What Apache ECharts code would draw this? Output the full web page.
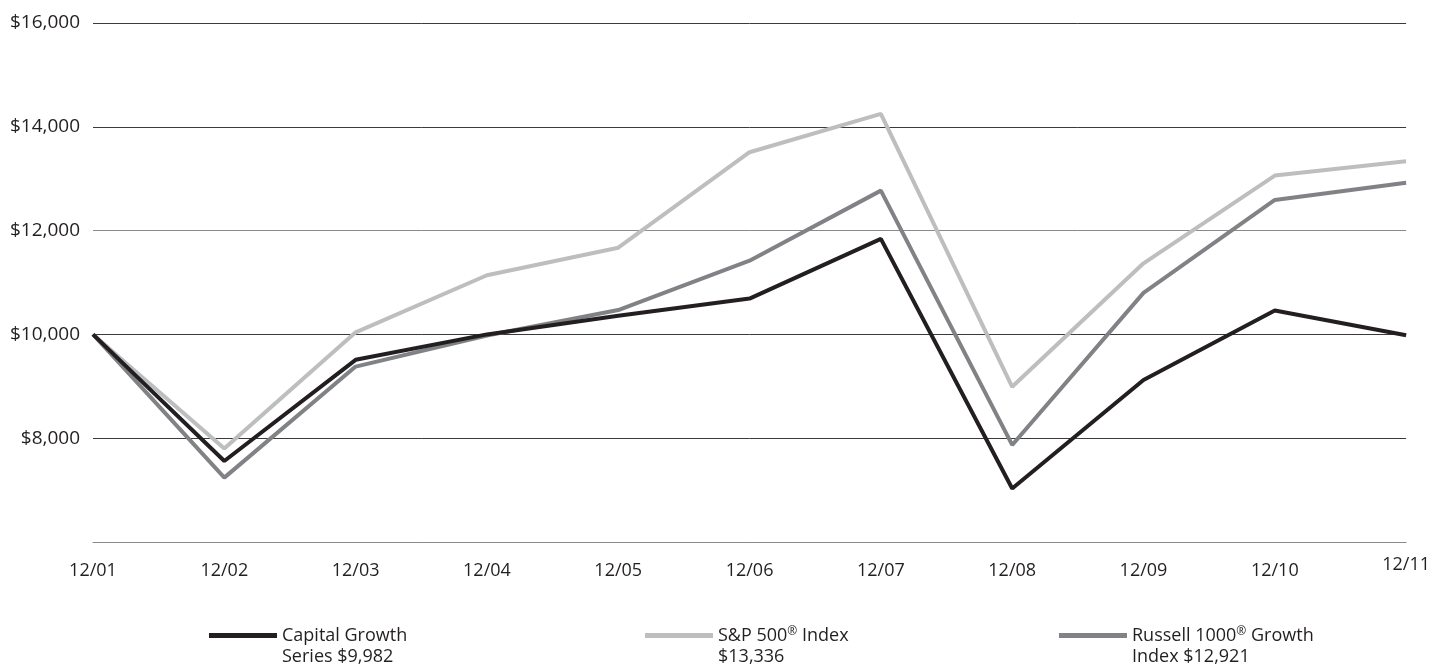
<!DOCTYPE html>
<html>
<head>
<meta charset="utf-8">
<script src="https://cdn.jsdelivr.net/npm/echarts@6/dist/echarts.min.js"></script>
<style>
html,body{margin:0;padding:0;background:#fff;}
#chart{width:1433px;height:667px;}
</style>
</head>
<body>
<div id="chart"></div>
<script>
const categories = ['12/01','12/02','12/03','12/04','12/05','12/06','12/07','12/08','12/09','12/10','12/11'];
const capitalGrowth = [10000, 7560, 9510, 10000, 10360, 10690, 11840, 7030, 9120, 10460, 9982];
const sp500 = [10000, 7800, 10040, 11140, 11670, 13510, 14250, 8990, 11370, 13060, 13336];
const russell1000Growth = [10000, 7240, 9380, 9980, 10470, 11420, 12770, 7870, 10800, 12590, 12921];
const yTicks = [6000, 8000, 10000, 12000, 14000, 16000];
const names = ['Capital Growth Series $9,982', 'S&P 500® Index $13,336', 'Russell 1000® Growth Index $12,921'];

const FONT = "'Open Sans', sans-serif";
const TEXT = '#231f20';
const C_CAP = '#231f20', C_SP = '#bcbec0', C_RUS = '#808285';

const chart = echarts.init(document.getElementById('chart'), null, {renderer: 'canvas'});

function legendOf(name, left, fmt) {
  return {
    data: [name],
    left: left,
    top: 604,
    padding: 0,
    itemWidth: 68,
    itemHeight: 5,
    icon: 'rect',
    selectedMode: false,
    itemStyle: {borderWidth: 0},
    formatter: fmt,
    textStyle: {
      fontFamily: FONT, fontSize: 18, color: TEXT, lineHeight: 21,
      padding: [21, 0, 0, 0],
      rich: {
        a: {fontFamily: FONT, fontSize: 18, color: TEXT, lineHeight: 21},
        sup: {fontFamily: FONT, fontSize: 12, color: TEXT, lineHeight: 21, padding: [0, 0, 8, 0]}
      }
    }
  };
}

const option = {
  animation: false,
  backgroundColor: '#fff',
  grid: {left: 93, right: 23, top: 23, bottom: 125, containLabel: false},
  xAxis: {
    type: 'category',
    data: categories,
    boundaryGap: false,
    axisTick: {show: false},
    axisLine: {show: true, lineStyle: {color: '#8a8a8a', width: 1}},
    axisLabel: {
      fontFamily: FONT, fontSize: 18, color: TEXT, margin: 14, interval: 0,
      formatter: (v, i) => i === categories.length - 1 ? '{l|' + v + '}' : '{n|' + v + '}',
      rich: {
        n: {fontFamily: FONT, fontSize: 18, color: TEXT, padding: [6, 0, 0, 0]},
        l: {fontFamily: FONT, fontSize: 18, color: TEXT, padding: [0, 0, 0, 0]}
      }
    },
    splitLine: {show: false}
  },
  yAxis: {
    type: 'value',
    min: yTicks[0],
    max: yTicks[yTicks.length - 1],
    interval: 2000,
    axisLine: {show: false},
    axisTick: {show: false},
    axisLabel: {
      fontFamily: FONT, fontSize: 19, color: TEXT, margin: 13,
      formatter: v => v === yTicks[0] ? '' : '$' + v.toLocaleString('en-US')
    },
    splitLine: {
      show: true,
      lineStyle: {color: ['#8a8a8a', '#3a3a3a', '#3a3a3a', '#8a8a8a', '#3a3a3a', '#3a3a3a'], width: 1}
    }
  },
  legend: [
    legendOf(names[0], 209, () => '{a|Capital Growth}\n{a|Series $9,982}'),
    legendOf(names[1], 645, () => '{a|S&P 500}{sup|®}{a| Index}\n{a|$13,336}'),
    legendOf(names[2], 1059, () => '{a|Russell 1000}{sup|®}{a| Growth}\n{a|Index $12,921}')
  ],
  series: [
    {name: names[1], type: 'line', data: sp500, symbol: 'none', color: C_SP,
     lineStyle: {color: C_SP, width: 4}, itemStyle: {color: C_SP}},
    {name: names[2], type: 'line', data: russell1000Growth, symbol: 'none', color: C_RUS,
     lineStyle: {color: C_RUS, width: 4}, itemStyle: {color: C_RUS}},
    {name: names[0], type: 'line', data: capitalGrowth, symbol: 'none', color: C_CAP,
     lineStyle: {color: C_CAP, width: 4}, itemStyle: {color: C_CAP}}
  ]
};
chart.setOption(option);
</script>
</body>
</html>
